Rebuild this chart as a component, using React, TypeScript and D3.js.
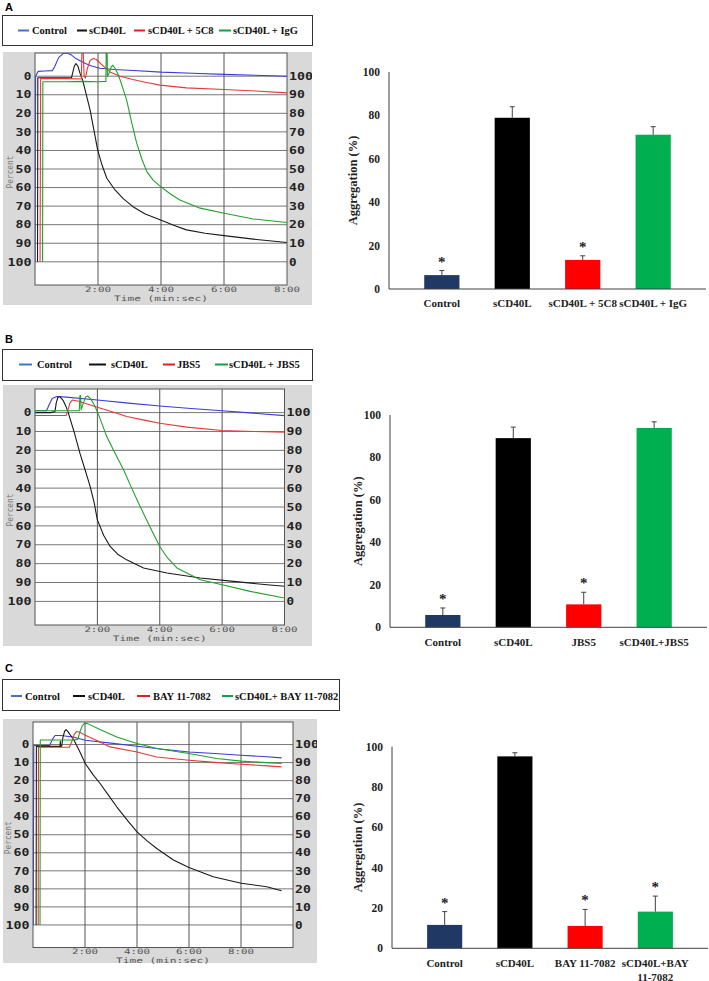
import React from "react";
import * as d3 from "d3";

type Pt = [number, number];

// ---------- Legend labels ----------
const legendLabelsA = ["Control", "sCD40L", "sCD40L + 5C8", "sCD40L + IgG"];
const legendLabelsB = ["Control", "sCD40L", "JBS5", "sCD40L + JBS5"];
const legendLabelsC = ["Control", "sCD40L", "BAY 11-7082", "sCD40L+ BAY 11-7082"];

// ---------- Aggregometer axis ticks ----------
const percentTicksLeft = [0, 10, 20, 30, 40, 50, 60, 70, 80, 90, 100];
const percentTicksRight = [100, 90, 80, 70, 60, 50, 40, 30, 20, 10, 0];
const timeTickValues = [2, 4, 6, 8];
const timeTickLabels = ["2:00", "4:00", "6:00", "8:00"];

// ---------- Aggregometer traces: [time (min), percent (left axis)] ----------
const traceA_control: Pt[] = [[0.0, 100], [0.02, 0], [0.1, -2.6], [0.3, -2.8], [0.55, -3], [0.62, -5], [0.75, -10], [0.9, -12.3], [1.0, -12.5], [1.15, -11.5], [1.3, -9.5], [1.43, -8.3], [1.6, -6.8], [1.8, -5.5], [2.06, -4.3], [2.5, -3.6], [3, -3.2], [4, -2.2], [5, -1.6], [6, -1], [7, -0.5], [8, 0]];
const traceA_sCD40L: Pt[] = [[0.08, 100], [0.09, 0.8], [0.5, 0.8], [1.0, 0.8], [1.16, 0.8], [1.2, -2], [1.25, -5.5], [1.3, -6.8], [1.36, -5.5], [1.43, -1.5], [1.51, 2], [1.6, 8], [1.75, 18.3], [1.87, 29], [1.99, 39.8], [2.13, 48], [2.28, 55], [2.54, 61.3], [2.8, 66], [3.11, 70.3], [3.5, 74.2], [3.97, 77.4], [4.4, 80.3], [4.81, 82.8], [5.4, 84.6], [6, 85.9], [6.93, 87.8], [8, 89.6]];
const traceA_5C8: Pt[] = [[0.16, 100], [0.18, 1.3], [0.6, 1.3], [1.0, 1.3], [1.47, 1.5], [1.49, -13], [1.53, -13], [1.56, 0], [1.6, 1], [1.66, -4], [1.75, -8.5], [1.85, -9.5], [1.95, -9], [2.1, -6.5], [2.38, -2.3], [2.7, 0], [3.11, 1.8], [3.5, 3.3], [3.97, 4.8], [4.81, 6.3], [6, 7.2], [7, 8], [8, 9]];
const traceA_IgG: Pt[] = [[0.24, 100], [0.25, 3], [1.0, 3], [1.5, 2.8], [2.0, 3], [2.25, 2.8], [2.26, -13], [2.29, -13], [2.3, 0], [2.36, -2], [2.42, -5], [2.47, -5.9], [2.55, -4], [2.65, -0.5], [2.78, 6], [2.91, 12.9], [3.07, 25], [3.23, 36.2], [3.4, 45], [3.55, 51.4], [3.75, 56], [3.99, 59.5], [4.3, 63.5], [4.6, 66.7], [5.24, 71.1], [6.01, 73.8], [6.93, 76.9], [8, 78.8]];

const traceB_control: Pt[] = [[0, -1], [0.37, -1], [0.45, -4], [0.55, -7.5], [0.7, -8.5], [1.0, -8.2], [2, -6.7], [3, -5], [4, -3.5], [5, -2.2], [6, -1], [7, 0.3], [8, 1.6]];
const traceB_sCD40L: Pt[] = [[0, 0], [0.5, 0], [0.64, -0.5], [0.68, -5], [0.73, -8], [0.8, -8.5], [0.9, -6.5], [1.0, -3], [1.07, 0.3], [1.25, 10], [1.44, 21.5], [1.6, 30], [1.77, 39.2], [1.9, 48], [2.0, 56.8], [2.2, 65], [2.41, 70.9], [2.65, 75], [2.94, 78], [3.48, 82.3], [4.23, 85], [5.3, 87.6], [6.36, 89.4], [7.44, 91.2], [8, 92]];
const traceB_JBS5: Pt[] = [[0, 1.5], [1.0, 1.5], [1.05, -1], [1.12, -5], [1.2, -6.7], [1.4, -6], [2, -2.8], [2.5, -0.3], [2.94, 2.1], [3.5, 4], [4, 5.6], [4.87, 7.7], [6, 9.5], [7, 10], [8, 10.4]];
const traceB_combo: Pt[] = [[0, -1], [1.42, -1], [1.44, -9], [1.46, -9], [1.48, -1.5], [1.55, -5], [1.62, -8.3], [1.69, -8.8], [1.8, -7], [1.9, -4], [2, -0.5], [2.15, 6], [2.3, 12.7], [2.55, 21], [2.84, 30.3], [3.1, 40], [3.37, 49.7], [3.7, 61], [4, 70.9], [4.25, 77], [4.55, 82.3], [5.3, 88.5], [6, 91.2], [6.9, 94.7], [8, 98.2]];

const traceC_control: Pt[] = [[0.01, 100], [0.03, 0.5], [0.3, 0.5], [0.64, 0.5], [0.75, -3], [0.85, -5], [1.08, -5], [1.3, -4.6], [1.54, -4.2], [2.01, -2.4], [3, -0.8], [4, 0.9], [5, 2.6], [6, 4.1], [7, 5], [8, 5.9], [9, 6.8], [9.56, 7.4]];
const traceC_sCD40L: Pt[] = [[0.12, 100], [0.13, 1], [0.5, 1], [1.04, 1], [1.05, -2], [1.06, 1], [1.1, 1], [1.15, -4], [1.22, -7.5], [1.27, -8.3], [1.35, -7], [1.45, -5], [1.58, -2.4], [1.8, 4], [2.01, 10.5], [2.3, 16.5], [2.58, 21.6], [2.9, 28], [3.22, 34.5], [3.6, 41.5], [4, 48.4], [4.4, 53.5], [4.76, 57.6], [5.4, 64], [6, 68.1], [6.93, 73.3], [8.01, 76.9], [8.99, 78.8], [9.56, 81]];
const traceC_BAY: Pt[] = [[0.2, 100], [0.21, 1.5], [0.6, 1.5], [1.4, 1.5], [1.5, -2], [1.58, -5.5], [1.67, -7.2], [1.81, -6.8], [2.01, -5.1], [2.5, -2], [2.96, 1.3], [4, 4.1], [4.76, 6.9], [6, 8.7], [7, 9.9], [8, 10.9], [9, 11.8], [9.56, 12.4]];
const traceC_combo: Pt[] = [[0.27, 100], [0.28, -2.5], [1.0, -2.5], [1.6, -2.6], [1.73, -3], [1.8, -7], [1.9, -10.5], [1.99, -11.8], [2.1, -11.6], [2.58, -8.3], [3.22, -4.2], [4, -0.6], [4.76, 2.2], [6, 5], [7.07, 7.7], [8.01, 9.2], [9, 10], [9.56, 10.5]];

// ---------- Bar charts ----------
const aggTicks = [0, 20, 40, 60, 80, 100];
const barColors = ["#203864", "#000000", "#ff0000", "#00b050"];
const barCatsA = ["Control", "sCD40L", "sCD40L + 5C8", "sCD40L + IgG"];
const barValsA = [6.4, 78.9, 13.4, 71.1];
const barErrA = [2.1, 5.1, 1.9, 3.7];
const barSigA = [true, false, true, false];

const barCatsB = ["Control", "sCD40L", "JBS5", "sCD40L+JBS5"];
const barValsB = [5.8, 89.1, 10.8, 93.9];
const barErrB = [3.3, 5.2, 5.7, 2.9];
const barSigB = [true, false, true, false];

const barCatsC = ["Control", "sCD40L", "BAY 11-7082", "sCD40L+BAY\n11-7082"];
const barValsC = [11.6, 95.2, 11.1, 18.2];
const barErrC = [6.6, 1.8, 8.2, 7.7];
const barSigC = [true, false, true, true];

const traceColors = ["#3c3cdc", "#1a1a1a", "#e23a3a", "#22a02a"];
const legendColors = ["#4472c4", "#111111", "#e02020", "#10a048"];

const SERIF = "'Liberation Serif', 'Times New Roman', serif";
const MONO = "'DejaVu Sans Mono', monospace";
const SANS = "'Liberation Sans', Arial, sans-serif";

type Rect = { x0: number; y0: number; x1: number; y1: number };

function Legend({ box, baseline, labels, items }: { box: Rect; baseline: number; labels: string[]; items: number[][] }) {
  return (
    <g>
      <rect x={box.x0 + 0.5} y={box.y0 + 0.5} width={box.x1 - box.x0} height={box.y1 - box.y0} fill="#fff" stroke="#333" strokeWidth={1} />
      {labels.map((lab, i) => (
        <g key={i}>
          <line x1={items[i][0]} x2={items[i][1]} y1={baseline - 3.5} y2={baseline - 3.5} stroke={legendColors[i]} strokeWidth={2} />
          <text x={items[i][2]} y={baseline} fontFamily={SERIF} fontWeight="bold" fontSize={10.5} fill="#111">{lab}</text>
        </g>
      ))}
    </g>
  );
}

function TracePanel({ id, gray, plot, tMax, series }: { id: string; gray: Rect; plot: Rect; tMax: number; series: Pt[][] }) {
  const x = d3.scaleLinear().domain([0, tMax]).range([plot.x0, plot.x1]);
  const y = d3.scaleLinear().domain([-12.5, 112.5]).range([plot.y0, plot.y1]);
  const line = d3.line<Pt>().x((d) => x(d[0])).y((d) => y(d[1]));
  const vGrid = d3.range(2, tMax, 2);
  const numW = 8.2;
  return (
    <g>
      <defs>
        <clipPath id={id + "-plot"}>
          <rect x={plot.x0} y={plot.y0} width={plot.x1 - plot.x0} height={plot.y1 - plot.y0} />
        </clipPath>
        <clipPath id={id + "-gray"}>
          <rect x={gray.x0} y={gray.y0} width={gray.x1 - gray.x0} height={gray.y1 - gray.y0} />
        </clipPath>
      </defs>
      <rect x={gray.x0} y={gray.y0} width={gray.x1 - gray.x0} height={gray.y1 - gray.y0} fill="#d9d9d9" />
      <rect x={plot.x0} y={plot.y0} width={plot.x1 - plot.x0} height={plot.y1 - plot.y0} fill="#fff" />
      {percentTicksLeft.map((v) => (
        <line key={"h" + v} x1={plot.x0} x2={plot.x1} y1={y(v)} y2={y(v)} stroke="#777" strokeWidth={1} />
      ))}
      {vGrid.map((t) => (
        <line key={"v" + t} x1={x(t)} x2={x(t)} y1={plot.y0} y2={plot.y1} stroke="#555" strokeWidth={1} />
      ))}
      <g clipPath={`url(#${id}-plot)`}>
        {series.map((s, i) => (
          <path key={i} d={line(s) || ""} fill="none" stroke={traceColors[i]} strokeWidth={1.1} strokeLinejoin="round" />
        ))}
      </g>
      <rect x={plot.x0} y={plot.y0} width={plot.x1 - plot.x0} height={plot.y1 - plot.y0} fill="none" stroke="#555" strokeWidth={1} />
      {percentTicksLeft.map((v) => {
        const n = String(v).length;
        return (
          <text key={"l" + v} x={plot.x0 - 3 - n * numW} y={y(v) + 3.7} textLength={n * numW - 0.6} lengthAdjust="spacingAndGlyphs"
            fontFamily={MONO} fontWeight="bold" fontSize={10} fill="#222">{v}</text>
        );
      })}
      <g clipPath={`url(#${id}-gray)`}>
        {percentTicksRight.map((v, i) => {
          const n = String(v).length;
          return (
            <text key={"r" + v} x={plot.x1 + 2} y={y(percentTicksLeft[i]) + 3.7} textLength={n * numW - 0.6} lengthAdjust="spacingAndGlyphs"
              fontFamily={MONO} fontWeight="bold" fontSize={10} fill="#222">{v}</text>
          );
        })}
      </g>
      {timeTickValues.map((t, i) => (
        <text key={"t" + t} x={x(t) - 13} y={plot.y1 + 6.8} textLength={26} lengthAdjust="spacingAndGlyphs"
          fontFamily={MONO} fontSize={7.5} fill="#555">{timeTickLabels[i]}</text>
      ))}
      <text x={(plot.x0 + plot.x1) / 2 - 47} y={plot.y1 + 15.5} textLength={94} lengthAdjust="spacingAndGlyphs"
        fontFamily={MONO} fontSize={7.5} fill="#555">Time (min:sec)</text>
      <text transform={`translate(${plot.x0 - 22},${(plot.y0 + plot.y1) / 2 + 3}) rotate(-90)`} x={-16.5} textLength={33} lengthAdjust="spacingAndGlyphs"
        fontFamily={MONO} fontSize={8} fill="#777">Percent</text>
    </g>
  );
}

function BarPanel({ axisX, xEnd, yZero, yHundred, cats, vals, errs, sig, labelBaseline, yLabelX }: {
  axisX: number; xEnd: number; yZero: number; yHundred: number; cats: string[]; vals: number[]; errs: number[]; sig: boolean[]; labelBaseline: number; yLabelX: number;
}) {
  const y = d3.scaleLinear().domain([0, 100]).range([yZero, yHundred]);
  const x = d3.scaleBand<string>().domain(cats).range([axisX, xEnd]).padding(0.5);
  const bw = x.bandwidth();
  return (
    <g>
      {cats.map((c, i) => {
        const cx = (x(c) as number) + bw / 2;
        const top = y(vals[i]);
        const eTop = y(vals[i] + errs[i]);
        return (
          <g key={c}>
            <rect x={x(c)} y={top} width={bw} height={yZero - top} fill={barColors[i]} />
            <line x1={cx} x2={cx} y1={top} y2={eTop} stroke="#404040" strokeWidth={1} />
            <line x1={cx - 2.5} x2={cx + 2.5} y1={eTop} y2={eTop} stroke="#404040" strokeWidth={1} />
            {sig[i] && (
              <text x={cx} y={eTop - 4} textAnchor="middle" fontFamily={SERIF} fontWeight="bold" fontSize={15} fill="#222">*</text>
            )}
            {c.split("\n").map((part, j) => (
              <text key={j} x={cx} y={labelBaseline + j * 14} textAnchor="middle" fontFamily={SERIF} fontWeight="bold" fontSize={11} fill="#222">{part}</text>
            ))}
          </g>
        );
      })}
      <line x1={axisX} x2={axisX} y1={y(100)} y2={yZero} stroke="#404040" strokeWidth={1} />
      <line x1={axisX} x2={xEnd} y1={yZero} y2={yZero} stroke="#404040" strokeWidth={1} />
      {aggTicks.map((t) => (
        <text key={t} x={axisX - 9} y={y(t) + 4} textAnchor="end" fontFamily={SERIF} fontWeight="bold" fontSize={11.5} fill="#222">{t}</text>
      ))}
      <text transform={`translate(${yLabelX},${(yZero + yHundred) / 2}) rotate(-90)`} textAnchor="middle" dominantBaseline="central" fontFamily={SERIF} fontWeight="bold" fontSize={12.5} fill="#222">Aggregation (%)</text>
    </g>
  );
}

export default function App() {
  return (
    <svg width={709} height={981} viewBox="0 0 709 981" style={{ position: "absolute", left: 0, top: 0, background: "#fff" }}>
      <rect x={0} y={0} width={709} height={981} fill="#fff" />
      {/* Panel A */}
      <text x={5} y={10.5} fontFamily={SANS} fontWeight="bold" fontSize={11}>A</text>
      <Legend box={{ x0: 2, y0: 15, x1: 312, y1: 45 }} baseline={34} labels={legendLabelsA}
        items={[[18, 29, 32], [77, 87, 89], [134, 145, 148], [219, 231, 233]]} />
      <TracePanel id="A" gray={{ x0: 3, y0: 52, x1: 312, y1: 305 }} plot={{ x0: 35, y0: 53, x1: 287, y1: 285 }} tMax={8}
        series={[traceA_control, traceA_sCD40L, traceA_5C8, traceA_IgG]} />
      <BarPanel axisX={389} xEnd={706} yZero={289} yHundred={72} cats={barCatsA} vals={barValsA} errs={barErrA} sig={barSigA} labelBaseline={306.5} yLabelX={352.7} />

      {/* Panel B */}
      <text x={5} y={343} fontFamily={SANS} fontWeight="bold" fontSize={11}>B</text>
      <Legend box={{ x0: 2, y0: 349, x1: 312, y1: 380 }} baseline={368} labels={legendLabelsB}
        items={[[19, 32, 37], [89, 106, 111], [163, 175, 177], [215, 228, 229]]} />
      <TracePanel id="B" gray={{ x0: 3, y0: 385, x1: 312, y1: 646 }} plot={{ x0: 35, y0: 389, x1: 284.5, y1: 625 }} tMax={8}
        series={[traceB_control, traceB_sCD40L, traceB_JBS5, traceB_combo]} />
      <BarPanel axisX={390} xEnd={707} yZero={627.3} yHundred={415} cats={barCatsB} vals={barValsB} errs={barErrB} sig={barSigB} labelBaseline={645.5} yLabelX={358} />

      {/* Panel C */}
      <text x={5} y={672} fontFamily={SANS} fontWeight="bold" fontSize={11}>C</text>
      <Legend box={{ x0: 2, y0: 679, x1: 339, y1: 710 }} baseline={699.5} labels={legendLabelsC}
        items={[[11, 22, 25], [73, 85, 88], [137, 150, 153], [222, 233, 235]]} />
      <TracePanel id="C" gray={{ x0: 3, y0: 719, x1: 317, y1: 963 }} plot={{ x0: 33, y0: 722, x1: 293, y1: 947.5 }} tMax={10}
        series={[traceC_control, traceC_sCD40L, traceC_BAY, traceC_combo]} />
      <BarPanel axisX={392} xEnd={708} yZero={948.3} yHundred={746.7} cats={barCatsC} vals={barValsC} errs={barErrC} sig={barSigC} labelBaseline={966.5} yLabelX={358} />
    </svg>
  );
}
